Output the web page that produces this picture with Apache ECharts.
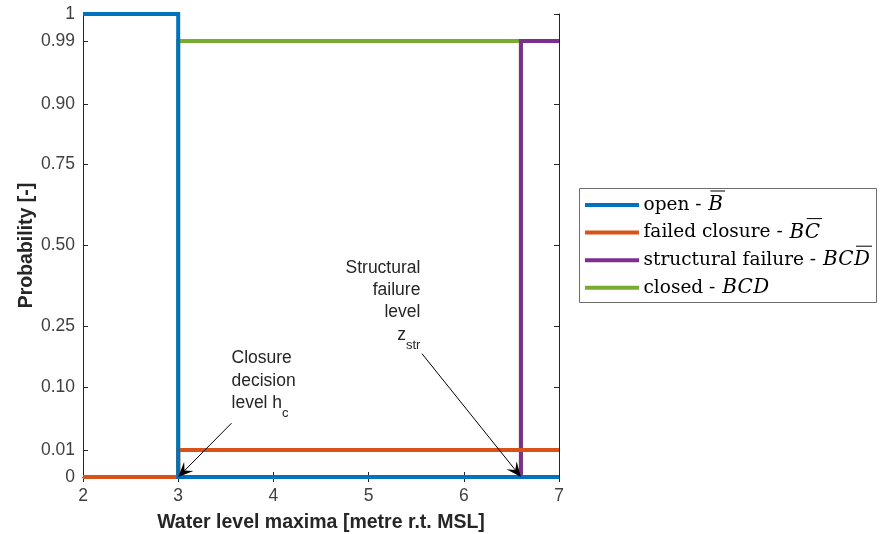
<!DOCTYPE html>
<html>
<head>
<meta charset="utf-8">
<script src="https://cdn.jsdelivr.net/npm/echarts@6/dist/echarts.min.js"></script>
<style>
  html, body { margin: 0; padding: 0; background: #ffffff; }
  #chart { width: 886px; height: 534px; }
</style>
</head>
<body>
<div id="chart"></div>
<script>
// ---- data -------------------------------------------------------------
const xTickValues = [2, 3, 4, 5, 6, 7];
const probTicks = [0, 0.01, 0.10, 0.25, 0.50, 0.75, 0.90, 0.99, 1];
const probTickLabels = ['0', '0.01', '0.10', '0.25', '0.50', '0.75', '0.90', '0.99', '1'];

const seriesNames = ['open', 'failed closure', 'structural failure', 'closed'];
const seriesColors = ['#0072BD', '#D95319', '#7E2F8E', '#77AC30'];

// step curves: water level breakpoints and probability of each state
const openX = [2, 3, 3, 7];
const openP = [1, 1, 0, 0];
const failedX = [2, 3, 3, 7];
const failedP = [0, 0, 0.01, 0.01];
const structX = [2, 6.6, 6.6, 7];
const structP = [0, 0, 0.99, 0.99];
const closedX = [2, 3, 3, 6.6, 6.6, 7];
const closedP = [0, 0, 0.99, 0.99, 0, 0];

// event symbols shown after each legend name (bar = overlined letter)
const legendSymbols = [
  [{ s: 'B', bar: true }],
  [{ s: 'B' }, { s: 'C', bar: true }],
  [{ s: 'B' }, { s: 'C' }, { s: 'D', bar: true }],
  [{ s: 'B' }, { s: 'C' }, { s: 'D' }]
];

// annotated levels: [water level, probability] of arrow tip and arrow tail
const closureLevel = 3;
const structuralLevel = 6.6;
const closureArrowTail = [3.56, 0.038];
const structuralArrowTail = [5.56, 0.177];

// ---- probability scale (stretched near 0 and 1) -----------------------
function probScale(p) {
  return 0.1 * p + 0.9 * (0.5 + Math.asin(2 * p - 1) / Math.PI);
}
const probTickPos = probTicks.map(probScale);
function probLabel(v) {
  for (let i = 0; i < probTickPos.length; i++) {
    if (Math.abs(probTickPos[i] - v) < 1e-6) return probTickLabels[i];
  }
  return '';
}
function toPoints(xs, ps) {
  return xs.map((x, i) => [x, probScale(ps[i])]);
}

const AXIS_COLOR = '#262626';
const LABEL_COLOR = '#404040';
const SANS = '"Liberation Sans", Arial, Helvetica, sans-serif';
const SERIF = '"DejaVu Serif", serif';

const chart = echarts.init(document.getElementById('chart'), null, { renderer: 'canvas' });

function stepSeries(idx, xs, ps) {
  return {
    name: seriesNames[idx],
    type: 'line',
    data: toPoints(xs, ps),
    showSymbol: false,
    symbol: 'none',
    clip: false,
    silent: true,
    lineStyle: { color: seriesColors[idx], width: 4, cap: 'butt', join: 'miter' },
    itemStyle: { color: seriesColors[idx] }
  };
}

const xMin = xTickValues[0];
const xMax = xTickValues[xTickValues.length - 1];
const xStep = xTickValues[1] - xTickValues[0];

const baseXAxis = {
  type: 'value', min: xMin, max: xMax, interval: xStep,
  axisLine: { show: true, lineStyle: { color: AXIS_COLOR, width: 1 } },
  axisTick: { show: true, inside: true, length: 5, lineStyle: { color: AXIS_COLOR } },
  splitLine: { show: false }
};
const baseYAxis = {
  type: 'value', min: 0, max: 1,
  axisLine: { show: true, lineStyle: { color: AXIS_COLOR, width: 1 } },
  axisTick: { show: true, inside: true, length: 5, customValues: probTickPos, lineStyle: { color: AXIS_COLOR } },
  splitLine: { show: false }
};

chart.setOption({
  animation: false,
  backgroundColor: '#ffffff',
  grid: { left: 83, top: 14, width: 476, height: 463, containLabel: false, outerBoundsMode: 'none' },
  xAxis: [
    Object.assign({}, baseXAxis, {
      position: 'bottom',
      axisLabel: { show: true, margin: 10, fontSize: 17.5, color: LABEL_COLOR, fontFamily: SANS },
      name: 'Water level maxima [metre r.t. MSL]',
      nameLocation: 'middle',
      nameGap: 36,
      nameMoveOverlap: false,
      nameTextStyle: { fontSize: 19.5, fontWeight: 'bold', color: AXIS_COLOR, fontFamily: SANS }
    }),
    Object.assign({}, baseXAxis, { position: 'top', axisLabel: { show: false } })
  ],
  yAxis: [
    Object.assign({}, baseYAxis, {
      position: 'left',
      axisLabel: {
        show: true, margin: 8, fontSize: 17.5, color: LABEL_COLOR, fontFamily: SANS,
        customValues: probTickPos, formatter: probLabel
      },
      name: 'Probability [-]',
      nameLocation: 'middle',
      nameGap: 46,
      nameRotate: 90,
      nameMoveOverlap: false,
      nameTextStyle: { fontSize: 19.5, fontWeight: 'bold', color: AXIS_COLOR, fontFamily: SANS }
    }),
    Object.assign({}, baseYAxis, { position: 'right', axisLabel: { show: false } })
  ],
  series: [
    stepSeries(3, closedX, closedP),
    stepSeries(2, structX, structP),
    stepSeries(1, failedX, failedP),
    stepSeries(0, openX, openP)
  ]
});

// ---- annotations and legend -----------------------------------------
const measureCtx = document.createElement('canvas').getContext('2d');
function textWidth(text, font) {
  measureCtx.font = font;
  return measureCtx.measureText(text).width;
}
function px(x, p) {
  return chart.convertToPixel({ gridIndex: 0 }, [x, probScale(p)]);
}

const graphics = [];

function arrow(tail, tipX, tipP) {
  const a = px(tail[0], tail[1]);
  const b = px(tipX, tipP);
  const dx = b[0] - a[0], dy = b[1] - a[1];
  const len = Math.hypot(dx, dy);
  const ux = dx / len, uy = dy / len;
  const nx = -uy, ny = ux;
  const L = 15, W = 6.5, notch = 0.6 * L;
  graphics.push({
    type: 'line', silent: true, z: 100,
    shape: { x1: a[0], y1: a[1], x2: b[0] - ux * notch, y2: b[1] - uy * notch },
    style: { stroke: '#000000', lineWidth: 1 }
  });
  graphics.push({
    type: 'polygon', silent: true, z: 101,
    shape: { points: [
      [b[0], b[1]],
      [b[0] - ux * L + nx * W, b[1] - uy * L + ny * W],
      [b[0] - ux * notch, b[1] - uy * notch],
      [b[0] - ux * L - nx * W, b[1] - uy * L - ny * W]
    ] },
    style: { fill: '#000000' }
  });
  return a;
}

function label(text, x, y, align, size) {
  graphics.push({
    type: 'text', silent: true, z: 102,
    style: {
      text: text, x: x, y: y, align: align, verticalAlign: 'middle',
      fontSize: size, fontFamily: SANS, fill: AXIS_COLOR
    }
  });
}

const MAIN = 17.5, SUB = 13, LINE = 22.5;

// closure decision level h_c
const cTail = arrow(closureArrowTail, closureLevel, 0);
const cx = cTail[0];
const cLast = cTail[1] - 20;
label('Closure', cx, cLast - 2 * LINE, 'left', MAIN);
label('decision', cx, cLast - LINE, 'left', MAIN);
label('level h', cx, cLast, 'left', MAIN);
label('c', cx + textWidth('level h', MAIN + 'px ' + SANS), cLast + 10, 'left', SUB);

// structural failure level z_str
const sTail = arrow(structuralArrowTail, structuralLevel, 0);
const sx = sTail[0] - 1.5;
const sLast = sTail[1] - 18.5;
label('Structural', sx, sLast - 23 - 2 * 22, 'right', MAIN);
label('failure', sx, sLast - 23 - 22, 'right', MAIN);
label('level', sx, sLast - 23, 'right', MAIN);
const strW = textWidth('str', SUB + 'px ' + SANS);
label('str', sx, sLast + 10, 'right', SUB);
label('z', sx - strW, sLast, 'right', MAIN);

// legend box
const LG = { x: 579.5, y: 188.5, w: 297, h: 114, rowY: 205, rowGap: 27.6, lineX1: 585, lineX2: 639, textX: 643.5 };
graphics.push({
  type: 'rect', silent: true, z: 90,
  shape: { x: LG.x, y: LG.y, width: LG.w, height: LG.h },
  style: { fill: '#ffffff', stroke: '#6e6e6e', lineWidth: 1 }
});
const LEG_SIZE = 18.5, MATH_SIZE = 20;
const romanFont = LEG_SIZE + 'px ' + SERIF;
const italicFont = 'italic ' + MATH_SIZE + 'px ' + SERIF;
seriesNames.forEach((name, i) => {
  const y = LG.rowY + i * LG.rowGap;
  graphics.push({
    type: 'line', silent: true, z: 91,
    shape: { x1: LG.lineX1, y1: y, x2: LG.lineX2, y2: y },
    style: { stroke: seriesColors[i], lineWidth: 4 }
  });
  const prefix = name + ' - ';
  graphics.push({
    type: 'text', silent: true, z: 92,
    style: { text: prefix, x: LG.textX, y: y, align: 'left', verticalAlign: 'middle',
             fontSize: LEG_SIZE, fontFamily: SERIF, fill: '#000000' }
  });
  let x = LG.textX + textWidth(prefix, romanFont) + 1;
  legendSymbols[i].forEach(part => {
    const w = textWidth(part.s, italicFont);
    graphics.push({
      type: 'text', silent: true, z: 92,
      style: { text: part.s, x: x, y: y, align: 'left', verticalAlign: 'middle',
               fontSize: MATH_SIZE, fontStyle: 'italic', fontFamily: SERIF, fill: '#000000' }
    });
    if (part.bar) {
      graphics.push({
        type: 'line', silent: true, z: 92,
        shape: { x1: x + 2, y1: y - 14, x2: x + w + 2, y2: y - 14 },
        style: { stroke: '#000000', lineWidth: 1 }
      });
    }
    x += w + 0.5;
  });
});

chart.setOption({ graphic: graphics });
</script>
</body>
</html>
